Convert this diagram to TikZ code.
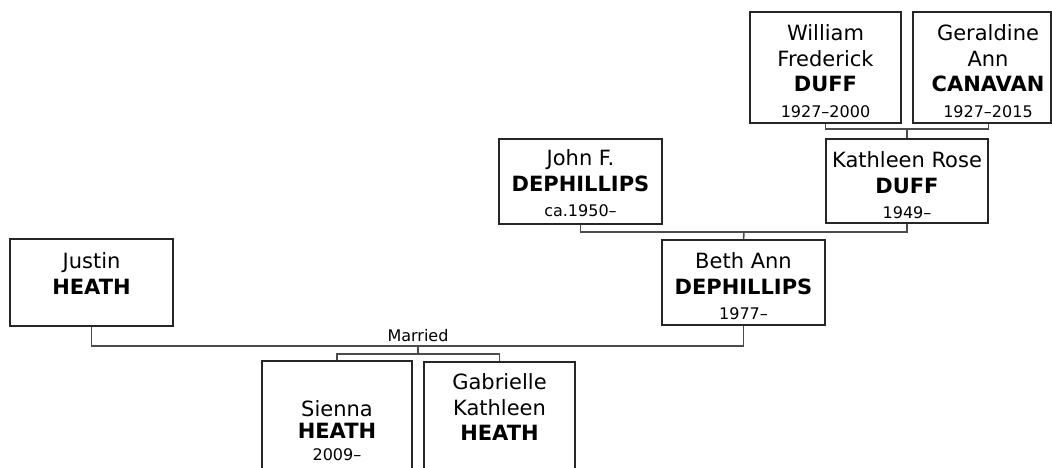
\documentclass[tikz,border=0pt]{standalone}
\usepackage{fontspec}
\setmainfont{DejaVu Sans}
\usepackage{tikz}
\newcommand{\yrsfont}{\fontsize{16}{18}\selectfont}
\newcommand{\yrs}[1]{{\yrsfont #1}}
\tikzstyle{person} = [rectangle, draw=black!85, line width=1.1pt, inner sep=0pt]
\tikzstyle{who} = [anchor=north, align=center, inner sep=0pt, font=\fontsize{21}{25.5}\selectfont]
\tikzstyle{link} = [draw=black!70, line width=1.6pt]

\begin{document}
\begin{tikzpicture}[x=1pt, y=-1pt]
	\useasboundingbox (0,0) rectangle (1052,468);

	\node(william) at (825.5, 67.5) [person, minimum width=151, minimum height=111] {};
	\node(geraldine) at (982, 67.5) [person, minimum width=138, minimum height=111] {};
	\node(kathleen) at (907, 181) [person, minimum width=162, minimum height=84] {};
	\node(john) at (580.5, 181.5) [person, minimum width=163, minimum height=85] {};
	\node(beth) at (743.5, 282.5) [person, minimum width=163, minimum height=85] {};
	\node(justin) at (91.5, 282.5) [person, minimum width=163, minimum height=87] {};
	\node(sienna) at (337, 431) [person, minimum width=150, minimum height=140] {};
	\node(gabrielle) at (499.5, 432) [person, minimum width=151, minimum height=140] {};

	\node(twilliam) at ([yshift=-13pt]william.north) [who] {William\\Frederick\\\textbf{DUFF}\\\yrs{1927–2000}};
	\node(tgeraldine) at ([xshift=6pt, yshift=-13pt]geraldine.north) [who] {Geraldine\\Ann\\\textbf{CANAVAN}\\\yrs{1927–2015}};
	\node(tkathleen) at ([yshift=-13pt]kathleen.north) [who] {Kathleen Rose\\\textbf{DUFF}\\\yrs{1949–}};
	\node(tjohn) at ([yshift=-11pt]john.north) [who] {John F.\\\textbf{DEPHILLIPS}\\\yrs{ca.1950–}};
	\node(tbeth) at ([yshift=-13pt]beth.north) [who] {Beth Ann\\\textbf{DEPHILLIPS}\\\yrs{1977–}};
	\node(tjustin) at ([yshift=-14pt]justin.north) [who] {Justin\\\textbf{HEATH}};
	\node(tsienna) at ([yshift=-40pt]sienna.north) [who, font=\fontsize{21}{22}\selectfont] {Sienna\\\textbf{HEATH}\\\yrs{2009–}};
	\node(tgabrielle) at ([yshift=-12pt]gabrielle.north) [who] {Gabrielle\\Kathleen\\\textbf{HEATH}};

	\coordinate (wg) at (907, 129);
	\coordinate (jk) at (744, 232);
	\coordinate (jb) at (418, 346);
	\coordinate (kids) at (418, 354);
	\draw [link] (william.south) |- (wg) -| (geraldine.south -| kathleen.east);
	\draw [link] (wg) -- (kathleen.north);
	\draw [link] (john.south) |- (jk) -| (kathleen.south);
	\draw [link] (jk) -- (beth.north);
	\draw [link] (justin.south) |- (jb) -| (beth.south);
	\draw [link] (jb) -- (kids);
	\draw [link] (sienna.north) |- (kids) -| (gabrielle.north);
	\node(married) at ([yshift=4pt]jb) [anchor=south, inner sep=0pt, font=\yrsfont] {Married};
\end{tikzpicture}
\end{document}
